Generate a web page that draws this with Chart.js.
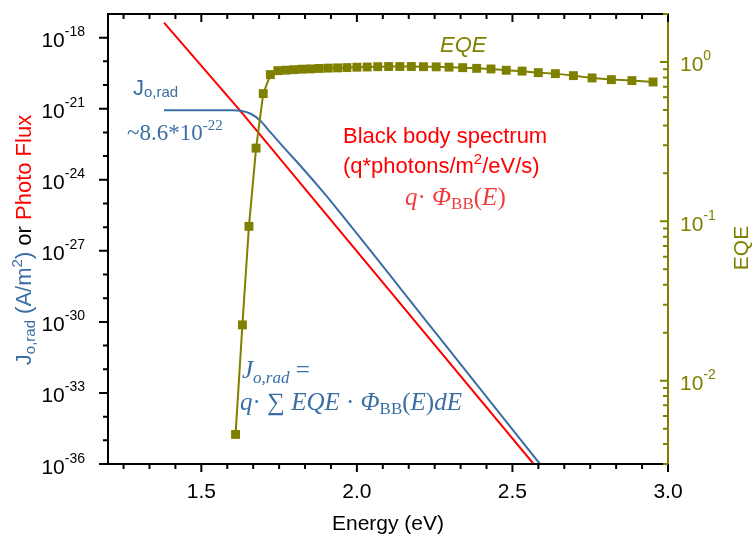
<!DOCTYPE html>
<html>
<head>
<meta charset="utf-8">
<script src="https://cdn.jsdelivr.net/npm/chart.js@4.4.1/dist/chart.umd.min.js"></script>
<style>
  html, body { margin: 0; padding: 0; background: #fff; }
  #wrap { width: 754px; height: 542px; }
</style>
</head>
<body>
<div id="wrap"><canvas id="chart" width="754" height="542"></canvas></div>
<script>
// ---- data ----
const bbEnergy = [1.38, 1.624, 1.882, 2.568];
const bbFlux = [4.3e-18, 8.6e-22, 7.0e-26, 1.0e-36];

const j0Energy = [1.38, 1.60, 1.63, 1.657, 1.689, 1.721, 1.764, 1.817, 1.892, 1.914, 2.256, 2.589];
const j0Values = [8.6e-22, 8.6e-22, 8.1e-22, 6.3e-22, 3.2e-22, 1.05e-22, 2.4e-23, 4.1e-24, 3.0e-25, 1.35e-25, 3.1e-31, 9.8e-37];

const eqeEnergy = [1.610, 1.632, 1.653, 1.676, 1.699, 1.722, 1.746, 1.771, 1.797, 1.824,
                   1.851, 1.879, 1.908, 1.938, 1.968, 2.000, 2.033, 2.067, 2.102, 2.138,
                   2.175, 2.214, 2.255, 2.296, 2.340, 2.385, 2.431, 2.480, 2.531, 2.583,
                   2.638, 2.696, 2.756, 2.818, 2.884, 2.952];
const eqeValues = [0.0046, 0.0224, 0.093, 0.288, 0.633, 0.833, 0.882, 0.888, 0.895, 0.901,
                   0.905, 0.911, 0.915, 0.918, 0.922, 0.927, 0.930, 0.934, 0.936, 0.936,
                   0.936, 0.934, 0.932, 0.928, 0.921, 0.912, 0.904, 0.887, 0.876, 0.857,
                   0.845, 0.821, 0.794, 0.775, 0.764, 0.749];

const xTicks = [1.5, 2.0, 2.5, 3.0];
const xTickLabels = ['1.5', '2.0', '2.5', '3.0'];
const leftTickExps = [-36, -33, -30, -27, -24, -21, -18];
const rightTickExps = [-2, -1, 0];

const colors = {
    red: '#ff0000',
    blue: '#3a6ea5',
    olive: '#808000',
    lightRed: '#f03c3c'
};

const SANS = '"Liberation Sans", Arial, sans-serif';
const SERIF = '"Liberation Serif", "Times New Roman", serif';

function pairs(xs, ys) {
    return xs.map((v, i) => ({ x: v, y: ys[i] }));
}

// draw a run of text pieces (for super/subscripts)
function richText(ctx, parts, x, y, align) {
    let w = 0;
    parts.forEach(p => { ctx.font = p.font; p.w = ctx.measureText(p.t).width; w += p.w; });
    let cx = align === 'right' ? x - w : align === 'center' ? x - w / 2 : x;
    parts.forEach(p => {
        ctx.font = p.font;
        ctx.fillStyle = p.color;
        ctx.fillText(p.t, cx, y + (p.dy || 0));
        cx += p.w;
    });
}

/* ========================= */
/* axes, ticks and notes     */
/* ========================= */
const decor = {
    id: 'decor',
    afterDatasetsDraw(chart) {
        const { ctx, chartArea: a, scales } = chart;
        const xs = scales.x, ys = scales.y, y2 = scales.y2;
        ctx.save();
        ctx.textAlign = 'left';
        ctx.textBaseline = 'alphabetic';
        ctx.lineWidth = 2;
        ctx.lineCap = 'butt';

        // frame
        ctx.strokeStyle = '#000';
        ctx.beginPath();
        ctx.moveTo(a.left, a.top - 1); ctx.lineTo(a.left, a.bottom + 1);
        ctx.moveTo(a.left - 1, a.bottom); ctx.lineTo(a.right, a.bottom);
        ctx.moveTo(a.left - 1, a.top); ctx.lineTo(a.right, a.top);
        ctx.stroke();
        ctx.strokeStyle = colors.olive;
        ctx.beginPath();
        ctx.moveTo(a.right, a.top - 1); ctx.lineTo(a.right, a.bottom + 1);
        ctx.stroke();

        // x ticks, bottom outward and top inward
        ctx.strokeStyle = '#000';
        ctx.beginPath();
        for (let k = 0; k <= 21; k++) {
            const v = 1.25 + k / 12;
            const px = xs.getPixelForValue(v);
            const major = k % 6 === 3;
            const len = major ? 8 : 5;
            ctx.moveTo(px, a.bottom); ctx.lineTo(px, a.bottom + len);
            ctx.moveTo(px, a.top); ctx.lineTo(px, a.top + len);
        }
        ctx.stroke();

        // left ticks, outward
        ctx.beginPath();
        for (let e = -36; e <= -18; e++) {
            const py = ys.getPixelForValue(Math.pow(10, e));
            const len = e % 3 === 0 ? 9 : 5;
            ctx.moveTo(a.left, py); ctx.lineTo(a.left - len, py);
        }
        ctx.stroke();

        // right ticks, inward
        ctx.strokeStyle = colors.olive;
        ctx.beginPath();
        for (let e = -3; e <= 0; e++) {
            for (let m = 1; m <= 9; m++) {
                const v = m * Math.pow(10, e);
                if (v < y2.min || v > y2.max) continue;
                const py = y2.getPixelForValue(v);
                const len = m === 1 ? 8 : 5;
                ctx.moveTo(a.right, py); ctx.lineTo(a.right - len, py);
            }
        }
        ctx.stroke();

        // tick labels
        const tickFont = '21px ' + SANS;
        const supFont = '14px ' + SANS;
        ctx.fillStyle = '#000';
        xTicks.forEach((v, i) => {
            richText(ctx, [{ t: xTickLabels[i], font: tickFont, color: '#000' }],
                xs.getPixelForValue(v), 498, 'center');
        });
        leftTickExps.forEach(e => {
            const py = ys.getPixelForValue(Math.pow(10, e));
            richText(ctx, [
                { t: '10', font: tickFont, color: '#000' },
                { t: String(e), font: supFont, color: '#000', dy: -11 }
            ], 85, py + 9.5, 'right');
        });
        rightTickExps.forEach(e => {
            const py = y2.getPixelForValue(Math.pow(10, e));
            richText(ctx, [
                { t: '10', font: tickFont, color: colors.olive },
                { t: String(e), font: supFont, color: colors.olive, dy: -11 }
            ], 680, py + 9.5, 'left');
        });

        // axis titles
        richText(ctx, [{ t: 'Energy (eV)', font: '21px ' + SANS, color: '#000' }],
            (a.left + a.right) / 2, 530, 'center');

        ctx.save();
        ctx.translate(23, 240);
        ctx.rotate(-Math.PI / 2);
        richText(ctx, [
            { t: 'J', font: '22px ' + SANS, color: colors.blue },
            { t: 'o,rad', font: '15px ' + SANS, color: colors.blue, dy: 4 },
            { t: ' (A/m', font: '22px ' + SANS, color: colors.blue },
            { t: '2', font: '15px ' + SANS, color: colors.blue, dy: -9 },
            { t: ')', font: '22px ' + SANS, color: colors.blue },
            { t: ' or ', font: '22px ' + SANS, color: '#000' },
            { t: 'Photo Flux', font: '22px ' + SANS, color: colors.red }
        ], 0, 8, 'center');
        ctx.restore();

        ctx.save();
        ctx.translate(740, 248);
        ctx.rotate(-Math.PI / 2);
        richText(ctx, [{ t: 'EQE', font: '21px ' + SANS, color: colors.olive }], 0, 8, 'center');
        ctx.restore();

        // annotations
        richText(ctx, [
            { t: 'J', font: '22px ' + SANS, color: colors.blue },
            { t: 'o,rad', font: '15px ' + SANS, color: colors.blue, dy: 2 }
        ], 133, 95, 'left');
        richText(ctx, [
            { t: '~8.6*10', font: '23px ' + SERIF, color: colors.blue },
            { t: '-22', font: '15px ' + SERIF, color: colors.blue, dy: -10 }
        ], 127, 140, 'left');
        richText(ctx, [{ t: 'EQE', font: 'italic 22px ' + SANS, color: colors.olive }], 440, 52, 'left');
        richText(ctx, [{ t: 'Black body spectrum', font: '22px ' + SANS, color: colors.red }], 343, 143, 'left');
        richText(ctx, [
            { t: '(q*photons/m', font: '22px ' + SANS, color: colors.red },
            { t: '2', font: '15px ' + SANS, color: colors.red, dy: -9 },
            { t: '/eV/s)', font: '22px ' + SANS, color: colors.red }
        ], 343, 173, 'left');
        richText(ctx, [
            { t: 'q', font: 'italic 25px ' + SERIF, color: colors.lightRed },
            { t: '\u00b7 ', font: '25px ' + SERIF, color: colors.lightRed },
            { t: '\u03a6', font: 'italic 25px ' + SERIF, color: colors.lightRed },
            { t: 'BB', font: '17px ' + SERIF, color: colors.lightRed, dy: 4 },
            { t: '(', font: '25px ' + SERIF, color: colors.lightRed },
            { t: 'E', font: 'italic 25px ' + SERIF, color: colors.lightRed },
            { t: ')', font: '25px ' + SERIF, color: colors.lightRed }
        ], 405, 205, 'left');
        richText(ctx, [
            { t: 'J', font: 'italic 25px ' + SERIF, color: colors.blue },
            { t: 'o,rad', font: 'italic 17px ' + SERIF, color: colors.blue, dy: 5 },
            { t: ' =', font: '25px ' + SERIF, color: colors.blue }
        ], 242, 378, 'left');
        richText(ctx, [
            { t: 'q', font: 'italic 25px ' + SERIF, color: colors.blue },
            { t: '\u00b7 \u2211 ', font: '25px ' + SERIF, color: colors.blue },
            { t: 'EQE', font: 'italic 25px ' + SERIF, color: colors.blue },
            { t: ' \u00b7 ', font: '25px ' + SERIF, color: colors.blue },
            { t: '\u03a6', font: 'italic 25px ' + SERIF, color: colors.blue },
            { t: 'BB', font: '17px ' + SERIF, color: colors.blue, dy: 4 },
            { t: '(', font: '25px ' + SERIF, color: colors.blue },
            { t: 'E', font: 'italic 25px ' + SERIF, color: colors.blue },
            { t: ')', font: '25px ' + SERIF, color: colors.blue },
            { t: 'dE', font: 'italic 25px ' + SERIF, color: colors.blue }
        ], 240, 410, 'left');

        ctx.restore();
    }
};

new Chart(document.getElementById('chart'), {
    type: 'line',
    data: {
        datasets: [
            {
                label: 'Black body',
                data: pairs(bbEnergy, bbFlux),
                yAxisID: 'y',
                borderColor: colors.red,
                borderWidth: 2,
                pointRadius: 0,
                order: 3
            },
            {
                label: 'Jo,rad',
                data: pairs(j0Energy, j0Values),
                yAxisID: 'y',
                borderColor: colors.blue,
                borderWidth: 2,
                pointRadius: 0,
                cubicInterpolationMode: 'monotone',
                order: 2
            },
            {
                label: 'EQE',
                data: pairs(eqeEnergy, eqeValues),
                yAxisID: 'y2',
                borderColor: colors.olive,
                backgroundColor: colors.olive,
                borderWidth: 2,
                pointStyle: 'rect',
                pointRadius: 6.3,
                pointBorderWidth: 0,
                order: 1
            }
        ]
    },
    options: {
        responsive: false,
        animation: false,
        layout: { padding: { left: 108, right: 86, top: 14, bottom: 78 } },
        scales: {
            x: { type: 'linear', min: 1.2, max: 3.0, display: false },
            y: { type: 'logarithmic', min: 1e-36, max: 1e-17, display: false },
            y2: { type: 'logarithmic', min: 0.003, max: 2.0, display: false, position: 'right' }
        },
        plugins: {
            legend: { display: false },
            tooltip: { enabled: false }
        }
    },
    plugins: [decor]
});
</script>
</body>
</html>
